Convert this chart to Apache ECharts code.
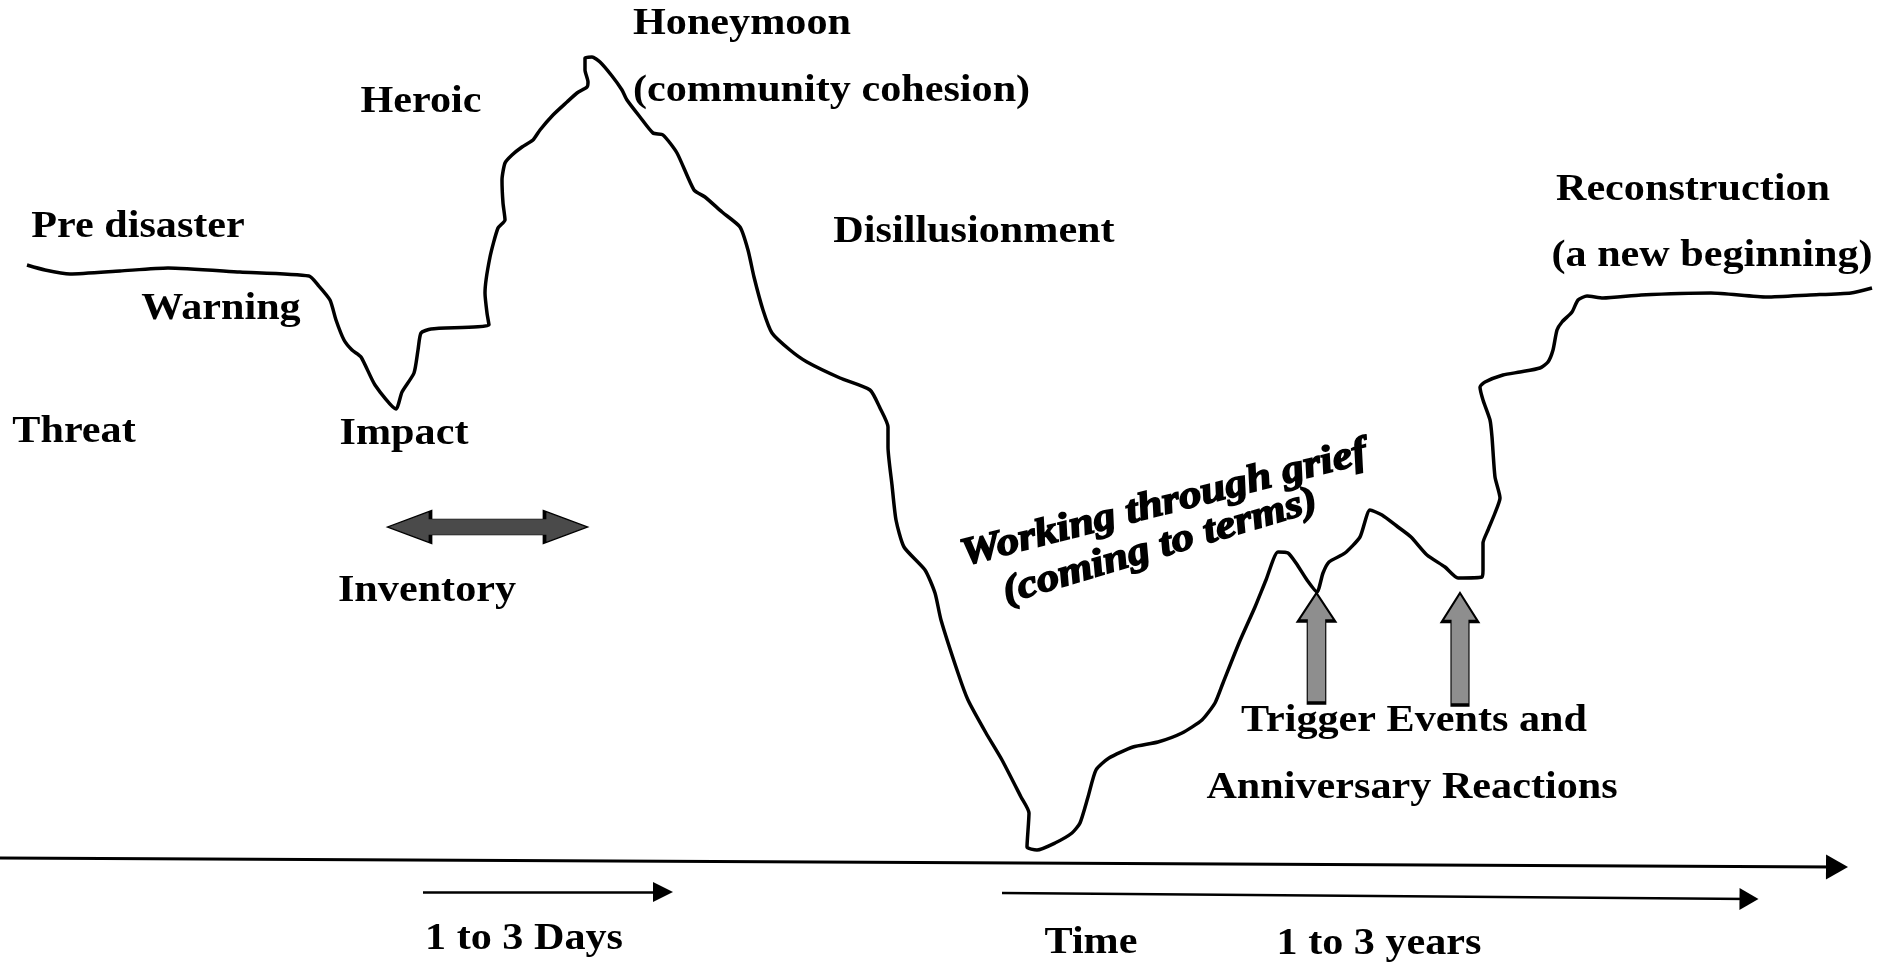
<!DOCTYPE html>
<html>
<head>
<meta charset="UTF-8">
<title>Phases of disaster</title>
<script type="text/javascript" src="https://cdn.jsdelivr.net/npm/echarts@6/dist/echarts.min.js"></script>
<style>html,body{margin:0;padding:0;background:#fff;overflow:hidden;}</style>
</head>
<body>
<div id="main" style="width:1893px;height:965px;"></div>
<script type="text/javascript">
// curve. x = time (arbitrary units), y = community level above the time axis
var curveX = [2.7, 4.5, 7.0, 12.0, 16.8, 24.0, 30.9, 31.8, 33.0, 33.6, 34.4, 35.2, 36.1, 37.5, 39.6,
	40.2, 41.4, 41.8, 42.1, 43.1, 48.9, 48.7, 48.5, 49.0, 49.8, 50.5, 50.3, 50.2, 50.5, 51.2,
	52.2, 53.3, 54.0, 55.3, 56.7, 57.7, 58.7, 58.8, 58.5, 58.5, 59.2, 60.0, 61.2, 62.2, 62.7,
	64.0, 65.3, 66.3, 67.7, 69.4, 70.5, 72.2, 74.0, 74.8, 75.4, 76.3, 77.2, 79.0, 80.7, 84.0,
	87.0, 88.0, 88.8, 88.8, 89.2, 89.6, 90.4, 92.5, 93.5, 94.1, 95.8, 96.8, 98.6, 100.2, 102.1,
	102.9, 102.7, 103.7, 105.5, 107.2, 108.0, 108.8, 109.6, 110.9, 113.3, 115.8, 118.2, 120.2, 121.5, 122.3,
	123.9, 125.5, 126.6, 127.8, 128.8, 129.6, 130.7, 131.7, 132.3, 132.9, 134.5, 136.0, 137.0, 138.2, 139.8,
	141.1, 142.7, 144.5, 145.8, 148.2, 148.3, 148.3, 148.8, 149.5, 150.0, 149.5, 149.2, 149.0, 148.3, 148.0,
	148.5, 150.3, 152.0, 154.0, 154.8, 155.3, 155.7, 156.2, 157.2, 157.8, 158.7, 160.3, 164.1, 171.1, 176.7,
	181.0, 185.1, 187.2];
var curveY = [59.5, 59.0, 58.6, 58.9, 59.2, 58.8, 58.4, 57.5, 56.0, 54.0, 52.0, 51.0, 50.3, 47.5, 45.1,
	46.8, 48.7, 51.0, 52.7, 53.1, 53.5, 54.7, 56.7, 60.3, 63.2, 64.0, 65.7, 68.0, 69.7, 70.5,
	71.3, 72.0, 73.0, 74.5, 75.8, 76.7, 77.3, 77.8, 79.0, 80.2, 80.3, 79.8, 78.4, 77.0, 76.0,
	74.3, 72.7, 72.5, 70.7, 67.0, 66.3, 64.8, 63.3, 61.0, 58.3, 55.0, 52.7, 51.0, 49.8, 48.2,
	47.0, 45.2, 43.3, 41.3, 37.5, 34.0, 31.3, 29.0, 26.7, 24.0, 18.7, 16.0, 12.7, 10.0, 6.3,
	4.7, 1.3, 1.0, 1.7, 2.7, 3.7, 6.3, 9.0, 10.2, 11.3, 11.8, 12.7, 14.0, 15.7, 17.7,
	21.7, 25.3, 28.0, 30.8, 30.7, 29.7, 28.0, 26.8, 28.7, 29.8, 30.7, 32.3, 35.0, 34.5, 33.3,
	32.3, 30.5, 29.3, 28.2, 28.3, 29.0, 31.7, 33.0, 34.7, 36.2, 38.3, 42.3, 44.0, 46.0, 47.3,
	47.8, 48.5, 48.8, 49.2, 49.8, 51.0, 53.0, 53.8, 54.8, 56.0, 56.4, 56.2, 56.5, 56.7, 56.3,
	56.5, 56.7, 57.2];

var phaseLabels = ['Honeymoon', '(community cohesion)', 'Heroic', 'Pre disaster', 'Warning', 'Threat',
	'Impact', 'Inventory', 'Disillusionment', 'Reconstruction', '(a new beginning)',
	'Trigger Events and', 'Anniversary Reactions'];
var timeLabels = ['1 to 3 Days', 'Time', '1 to 3 years'];
var griefLabels = ['Working through grief', '(coming to terms)'];

// where each label sits on the page (pixels): [x, y, align]
var phasePos = [[633, 24, 'left'], [633, 91, 'left'], [421, 102, 'center'], [138, 227, 'center'],
	[221, 309, 'center'], [74, 432, 'center'], [404, 434, 'center'], [427, 591, 'center'],
	[974, 232, 'center'], [1693, 190, 'center'], [1712, 256, 'center'], [1414, 721, 'center'],
	[1412, 788, 'center']];
var timePos = [[524, 939], [1091, 943], [1379, 944]];
var griefPos = [[1164, 504, 0.25], [1160, 547, 0.29]];

var FONT = 'bold 37px "Liberation Serif", "Times New Roman", serif';
var STRETCH = 1.14;

function textEl(txt, x, y, align, font, rot, sx, heavy) {
	return {
		type: 'text', x: x, y: y, rotation: rot || 0, scaleX: sx, silent: true,
		style: {
			text: txt, font: font, fill: '#000',
			stroke: heavy ? '#000' : null, lineWidth: heavy ? 1.6 : 0,
			textAlign: align, textVerticalAlign: 'middle',
			align: align, verticalAlign: 'middle'
		}
	};
}

var graphics = [];
phaseLabels.forEach(function (t, i) {
	graphics.push(textEl(t, phasePos[i][0], phasePos[i][1], phasePos[i][2], FONT, 0, STRETCH));
});
timeLabels.forEach(function (t, i) {
	graphics.push(textEl(t, timePos[i][0], timePos[i][1], 'center', FONT, 0, STRETCH));
});
griefLabels.forEach(function (t, i) {
	graphics.push(textEl(t, griefPos[i][0], griefPos[i][1], 'center',
		'italic bold 39px "Liberation Serif", "Times New Roman", serif', griefPos[i][2], 1.15, true));
});

var upArrow = 'path://M18,0 L36,28 L27,28 L27,110 L9,110 L9,28 L0,28 Z';
var bothArrow = 'path://M0,16 L43,0 L43,8 L157,8 L157,0 L200,16 L157,32 L157,24 L43,24 L43,32 Z';

var myChart = echarts.init(document.getElementById('main'));
var option = {
	animation: false,
	backgroundColor: '#fff',
	grid: { left: 0, right: 0, top: 0, bottom: 0 },
	xAxis: { type: 'value', min: 0, max: 189.3, show: false },
	yAxis: { type: 'value', min: -10.5, max: 86, show: false },
	graphic: graphics,
	series: [
		{
			type: 'line',
			silent: true,
			showSymbol: false,
			smooth: 0.2,
			lineStyle: { color: '#000', width: 3.5 },
			data: curveX.map(function (x, i) { return [x, curveY[i]]; }),
			markPoint: {
				silent: true,
				label: { show: false },
				data: [
					{ coord: [48.75, 33.3], symbol: bothArrow, symbolSize: [200, 32],
						itemStyle: { color: '#4a4a4a', borderColor: '#000', borderWidth: 1.5 } },
					{ coord: [131.65, 21.2], symbol: upArrow, symbolSize: [37, 110],
						itemStyle: { color: '#8e8e8e', borderColor: '#000', borderWidth: 2 } },
					{ coord: [146.0, 21.1], symbol: upArrow, symbolSize: [36, 112],
						itemStyle: { color: '#8e8e8e', borderColor: '#000', borderWidth: 2 } }
				]
			},
			markLine: {
				silent: true,
				label: { show: false },
				symbol: ['none', 'triangle'],
				lineStyle: { color: '#000', type: 'solid', width: 2.5 },
				data: [
					[{ coord: [0, 0.2], lineStyle: { width: 3 } }, { coord: [183.7, -0.7], symbolSize: [25, 22] }],
					[{ coord: [42.3, -3.2] }, { coord: [66.3, -3.2], symbolSize: [20, 20] }],
					[{ coord: [100.2, -3.3] }, { coord: [174.9, -3.9], symbolSize: [22, 19] }]
				]
			}
		}
	]
};
myChart.setOption(option);
</script>
</body>
</html>
